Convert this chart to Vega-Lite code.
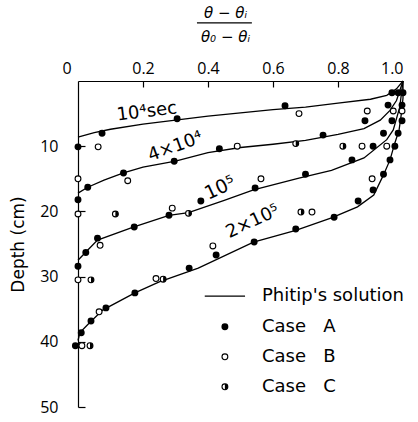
{
  "$schema": "https://vega.github.io/schema/vega-lite/v6.json",
  "width": 325,
  "height": 326,
  "autosize": "none",
  "padding": {"left": 78, "top": 81, "right": 15, "bottom": 15},
  "background": "white",
  "config": {
    "view": {"stroke": null},
    "font": "DejaVu Sans",
    "axis": {"grid": false, "domainColor": "black", "tickColor": "black", "tickWidth": 1.2, "labelColor": "black", "titleColor": "black", "labelFontSize": 16, "titleFontWeight": "normal", "titleFontSize": 17, "labelFont": "Open Sans", "titleFont": "DejaVu Sans"}
  },
  "datasets": {
    "curves": [
      {"c": "1e4", "x": 0, "depth": 8.6}, {"c": "1e4", "x": 0.05, "depth": 7.9}, {"c": "1e4", "x": 0.1, "depth": 7.4}, {"c": "1e4", "x": 0.2, "depth": 6.6}, {"c": "1e4", "x": 0.3, "depth": 6.0}, {"c": "1e4", "x": 0.4, "depth": 5.4}, {"c": "1e4", "x": 0.5, "depth": 4.9}, {"c": "1e4", "x": 0.6, "depth": 4.4}, {"c": "1e4", "x": 0.7, "depth": 4.0}, {"c": "1e4", "x": 0.8, "depth": 3.4}, {"c": "1e4", "x": 0.9, "depth": 2.8}, {"c": "1e4", "x": 0.95, "depth": 2.2}, {"c": "1e4", "x": 0.98, "depth": 1.2}, {"c": "1e4", "x": 1.0, "depth": 0},
      {"c": "4e4", "x": 0, "depth": 17.2}, {"c": "4e4", "x": 0.03, "depth": 16.3}, {"c": "4e4", "x": 0.08, "depth": 15.2}, {"c": "4e4", "x": 0.14, "depth": 14.1}, {"c": "4e4", "x": 0.2, "depth": 13.2}, {"c": "4e4", "x": 0.3, "depth": 12.3}, {"c": "4e4", "x": 0.4, "depth": 11.0}, {"c": "4e4", "x": 0.5, "depth": 10.2}, {"c": "4e4", "x": 0.6, "depth": 9.7}, {"c": "4e4", "x": 0.7, "depth": 9.1}, {"c": "4e4", "x": 0.8, "depth": 8.2}, {"c": "4e4", "x": 0.88, "depth": 7.3}, {"c": "4e4", "x": 0.93, "depth": 6.0}, {"c": "4e4", "x": 0.96, "depth": 4.5}, {"c": "4e4", "x": 0.98, "depth": 3.0}, {"c": "4e4", "x": 1.0, "depth": 0},
      {"c": "1e5", "x": 0, "depth": 27.5}, {"c": "1e5", "x": 0.025, "depth": 26.2}, {"c": "1e5", "x": 0.06, "depth": 24.4}, {"c": "1e5", "x": 0.17, "depth": 22.4}, {"c": "1e5", "x": 0.28, "depth": 20.6}, {"c": "1e5", "x": 0.34, "depth": 20.2}, {"c": "1e5", "x": 0.45, "depth": 18.3}, {"c": "1e5", "x": 0.54, "depth": 16.7}, {"c": "1e5", "x": 0.68, "depth": 14.9}, {"c": "1e5", "x": 0.78, "depth": 13.7}, {"c": "1e5", "x": 0.88, "depth": 11.8}, {"c": "1e5", "x": 0.95, "depth": 9.0}, {"c": "1e5", "x": 0.97, "depth": 7.5}, {"c": "1e5", "x": 0.99, "depth": 4.0}, {"c": "1e5", "x": 1.0, "depth": 0},
      {"c": "2e5", "x": 0, "depth": 39.8}, {"c": "2e5", "x": 0.006, "depth": 38.6}, {"c": "2e5", "x": 0.037, "depth": 37.0}, {"c": "2e5", "x": 0.077, "depth": 35.1}, {"c": "2e5", "x": 0.175, "depth": 32.5}, {"c": "2e5", "x": 0.25, "depth": 30.8}, {"c": "2e5", "x": 0.37, "depth": 28.7}, {"c": "2e5", "x": 0.54, "depth": 24.7}, {"c": "2e5", "x": 0.67, "depth": 22.9}, {"c": "2e5", "x": 0.78, "depth": 21.0}, {"c": "2e5", "x": 0.86, "depth": 19.3}, {"c": "2e5", "x": 0.91, "depth": 17.5}, {"c": "2e5", "x": 0.94, "depth": 14.4}, {"c": "2e5", "x": 0.96, "depth": 12.1}, {"c": "2e5", "x": 0.975, "depth": 9.5}, {"c": "2e5", "x": 0.988, "depth": 7.5}, {"c": "2e5", "x": 0.995, "depth": 5.0}, {"c": "2e5", "x": 1.0, "depth": 2.6}, {"c": "2e5", "x": 1.0, "depth": 0}
    ],
    "pts": [
      {"x": 0, "depth": 10.1, "case": "A"}, {"x": 0.074, "depth": 8.0, "case": "A"}, {"x": 0.305, "depth": 5.8, "case": "A"}, {"x": 0.637, "depth": 3.8, "case": "A"},
      {"x": 0.966, "depth": 1.8, "case": "A"}, {"x": 0.985, "depth": 1.8, "case": "A"}, {"x": 1.0, "depth": 1.8, "case": "A"},
      {"x": 0.954, "depth": 3.7, "case": "A"}, {"x": 0.997, "depth": 3.7, "case": "A"},
      {"x": 0.883, "depth": 6.1, "case": "A"}, {"x": 0.966, "depth": 6.1, "case": "A"}, {"x": 0.997, "depth": 6.1, "case": "A"},
      {"x": 0.94, "depth": 8.0, "case": "A"}, {"x": 0.985, "depth": 8.0, "case": "A"},
      {"x": 0.908, "depth": 10.0, "case": "A"}, {"x": 0.975, "depth": 10.0, "case": "A"},
      {"x": 0.843, "depth": 12.1, "case": "A"}, {"x": 0.96, "depth": 12.1, "case": "A"},
      {"x": 0.754, "depth": 8.3, "case": "A"}, {"x": 0.435, "depth": 10.4, "case": "A"}, {"x": 0.296, "depth": 12.3, "case": "A"}, {"x": 0.14, "depth": 14.1, "case": "A"}, {"x": 0.03, "depth": 16.3, "case": "A"}, {"x": 0, "depth": 18.2, "case": "A"},
      {"x": 0.70, "depth": 14.3, "case": "A"}, {"x": 0.545, "depth": 16.4, "case": "A"}, {"x": 0.378, "depth": 18.4, "case": "A"}, {"x": 0.28, "depth": 20.6, "case": "A"}, {"x": 0.173, "depth": 22.4, "case": "A"}, {"x": 0.06, "depth": 24.1, "case": "A"}, {"x": 0.024, "depth": 26.3, "case": "A"}, {"x": 0, "depth": 28.4, "case": "A"},
      {"x": 0.94, "depth": 14.3, "case": "A"}, {"x": 0.908, "depth": 16.7, "case": "A"}, {"x": 0.862, "depth": 18.4, "case": "A"}, {"x": 0.788, "depth": 20.9, "case": "A"}, {"x": 0.67, "depth": 22.7, "case": "A"}, {"x": 0.542, "depth": 24.7, "case": "A"}, {"x": 0.425, "depth": 26.7, "case": "A"}, {"x": 0.342, "depth": 28.7, "case": "A"},
      {"x": 0.175, "depth": 32.5, "case": "A"}, {"x": 0.086, "depth": 34.8, "case": "A"}, {"x": 0.04, "depth": 36.8, "case": "A"}, {"x": 0.01, "depth": 38.6, "case": "A"}, {"x": -0.008, "depth": 40.6, "case": "A"},
      {"x": 0.062, "depth": 10.1, "case": "B"}, {"x": 0.68, "depth": 5.0, "case": "B"}, {"x": 0.89, "depth": 4.6, "case": "B"}, {"x": 0.97, "depth": 4.6, "case": "B"}, {"x": 0.997, "depth": 4.6, "case": "B"},
      {"x": 0.874, "depth": 10.0, "case": "B"}, {"x": 0.95, "depth": 10.0, "case": "B"}, {"x": 0, "depth": 15.0, "case": "B"}, {"x": 0.153, "depth": 15.3, "case": "B"}, {"x": 0.49, "depth": 10.0, "case": "B"},
      {"x": 0, "depth": 20.4, "case": "B"}, {"x": 0.563, "depth": 15.0, "case": "B"}, {"x": 0.29, "depth": 19.5, "case": "B"}, {"x": 0.068, "depth": 25.2, "case": "B"}, {"x": 0.905, "depth": 15.0, "case": "B"}, {"x": 0.72, "depth": 20.1, "case": "B"}, {"x": 0.415, "depth": 25.3, "case": "B"},
      {"x": 0, "depth": 30.5, "case": "B"}, {"x": 0.24, "depth": 30.3, "case": "B"}, {"x": 0.065, "depth": 35.4, "case": "B"}, {"x": 0.012, "depth": 40.6, "case": "B"},
      {"x": 0.67, "depth": 9.6, "case": "C"}, {"x": 0.815, "depth": 10.0, "case": "C"}, {"x": 0.115, "depth": 20.4, "case": "C"}, {"x": 0.34, "depth": 20.3, "case": "C"}, {"x": 0.686, "depth": 20.1, "case": "C"}, {"x": 0.04, "depth": 30.5, "case": "C"}, {"x": 0.262, "depth": 30.4, "case": "C"}, {"x": 0.037, "depth": 40.6, "case": "C"},
      {"x": 0.452, "depth": 37.7, "case": "A"}, {"x": 0.452, "depth": 42.3, "case": "B"}, {"x": 0.452, "depth": 46.9, "case": "C"}
    ],
    "legendline": [{"x": 0.39, "depth": 33.0}, {"x": 0.514, "depth": 33.0}],
    "fracbar": [{"x": 0.366, "x2": 0.535, "depth": -8.9}],
    "legendtext": [
      {"x": 0.566, "depth": 33.0, "text": "Phitip's solution"},
      {"x": 0.566, "depth": 37.7, "text": "Case\u00a0\u00a0\u00a0A"},
      {"x": 0.566, "depth": 42.3, "text": "Case\u00a0\u00a0\u00a0B"},
      {"x": 0.566, "depth": 46.9, "text": "Case\u00a0\u00a0\u00a0C"}
    ],
    "curvelabels": [
      {"x": 0.212, "depth": 4.75, "text": "10⁴sec"},
      {"x": 0.30, "depth": 10.1, "text": "4×10⁴"},
      {"x": 0.437, "depth": 16.4, "text": "10⁵"},
      {"x": 0.538, "depth": 21.6, "text": "2×10⁵"}
    ]
  },
  "resolve": {"axis": {"x": "independent", "y": "independent"}},
  "layer": [
    {
      "encoding": {
        "x": {"field": "x", "type": "quantitative", "scale": {"domain": [0, 1], "nice": false, "zero": false},
          "axis": {"orient": "top", "values": [0, 0.2, 0.4, 0.6, 0.8, 1.0], "labelExpr": "datum.value == 0 ? '0' : format(datum.value, '.1f')", "labelOffset": {"condition": {"test": "datum.value == 0", "value": -16}, "value": 0}, "ticks": false, "tickSize": 0, "labelPadding": 5, "domainWidth": 1.2,
            "title": ["θ − θᵢ", "θ₀ − θᵢ"], "titleFontStyle": "italic", "titleLineHeight": 24, "titlePadding": 16, "titleX": 147, "titleFont": "DejaVu Sans", "titleFontSize": 15}},
        "y": {"field": "depth", "type": "quantitative", "scale": {"domain": [0, 50], "reverse": true, "nice": false},
          "axis": {"values": [10, 20, 30, 40, 50], "ticks": false, "tickSize": 0, "labelPadding": 20, "domainWidth": 1.2, "title": "Depth (cm)", "titlePadding": 12}}
      },
      "layer": [
        {"data": {"name": "curves"}, "mark": {"type": "line", "color": "black", "strokeWidth": 1.3}, "encoding": {"detail": {"field": "c"}, "order": {"field": "depth", "sort": "descending"}}},
        {"data": {"name": "legendline"}, "mark": {"type": "line", "color": "black", "strokeWidth": 1.3}, "encoding": {}},
        {"data": {"name": "pts"}, "transform": [{"filter": "datum.case == 'A'"}], "mark": {"type": "point", "shape": "circle", "filled": true, "color": "black", "size": 48, "opacity": 1}},
        {"data": {"name": "pts"}, "transform": [{"filter": "datum.case != 'A'"}], "mark": {"type": "point", "shape": "circle", "filled": false, "stroke": "black", "fill": "white", "fillOpacity": 1, "strokeWidth": 1.1, "size": 34, "opacity": 1}},
        {"data": {"name": "pts"}, "transform": [{"filter": "datum.case == 'C'"}], "mark": {"type": "point", "shape": "M0,-1 A1,1 0 0,1 0,1 Z", "filled": true, "color": "black", "size": 34, "opacity": 1}},
        {"data": {"name": "legendtext"}, "mark": {"type": "text", "align": "left", "baseline": "middle", "fontSize": 18, "color": "black"}, "encoding": {"text": {"field": "text"}}},
        {"data": {"name": "curvelabels"}, "transform": [{"filter": "datum.text == '10⁴sec'"}], "mark": {"type": "text", "align": "center", "baseline": "middle", "fontSize": 18, "angle": 353, "color": "black"}, "encoding": {"text": {"field": "text"}}},
        {"data": {"name": "curvelabels"}, "transform": [{"filter": "datum.text == '4×10⁴'"}], "mark": {"type": "text", "align": "center", "baseline": "middle", "fontSize": 18, "angle": 340, "color": "black"}, "encoding": {"text": {"field": "text"}}},
        {"data": {"name": "curvelabels"}, "transform": [{"filter": "datum.text == '10⁵'"}], "mark": {"type": "text", "align": "center", "baseline": "middle", "fontSize": 19, "angle": 335, "color": "black"}, "encoding": {"text": {"field": "text"}}},
        {"data": {"name": "curvelabels"}, "transform": [{"filter": "datum.text == '2×10⁵'"}], "mark": {"type": "text", "align": "center", "baseline": "middle", "fontSize": 18, "angle": 335, "color": "black"}, "encoding": {"text": {"field": "text"}}}
      ]
    },
    {
      "data": {"name": "fracbar"},
      "mark": {"type": "rule", "color": "black", "strokeWidth": 1.3, "clip": false},
      "encoding": {
        "x": {"field": "x", "type": "quantitative", "scale": {"domain": [0, 1], "nice": false, "zero": false},
          "axis": {"orient": "top", "values": [0.2, 0.4, 0.6, 0.8], "domain": false, "labels": false, "title": null, "ticks": true, "tickSize": 6, "offset": -6}},
        "x2": {"field": "x2"},
        "y": {"field": "depth", "type": "quantitative", "scale": {"domain": [0, 50], "reverse": true, "nice": false},
          "axis": {"orient": "left", "values": [10, 20, 30, 40, 50], "domain": false, "labels": false, "title": null, "ticks": true, "tickSize": 7, "offset": -7}}
      }
    }
  ]
}
